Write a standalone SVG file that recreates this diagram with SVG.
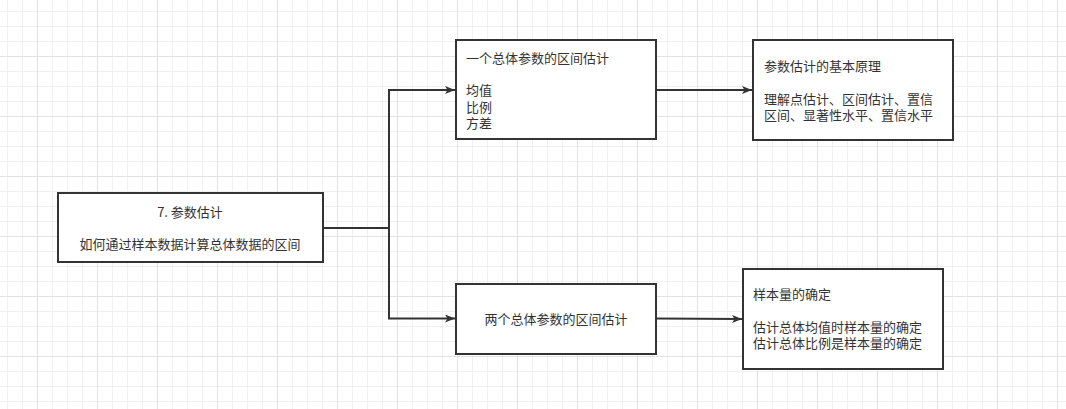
<svg xmlns="http://www.w3.org/2000/svg" width="1066" height="409" viewBox="0 0 1066 409">
<style>
.box{fill:#ffffff;stroke:#333333;stroke-width:2}
.t{font-family:"Noto Sans CJK SC","Liberation Sans",sans-serif;font-size:13px;fill:#333333}
.c{fill:none;stroke:#333333;stroke-width:2}
</style>
<defs>
<pattern id="grid" patternUnits="userSpaceOnUse" x="37" y="56" width="60" height="60">
<path d="M15.5 0V60M30.5 0V60M45.5 0V60M0 15.5H60M0 30.5H60M0 45.5H60" stroke="#f0f0f0" stroke-width="1" fill="none"/>
<path d="M0.5 0V60M0 0.5H60" stroke="#e2e2e2" stroke-width="1" fill="none"/>
</pattern>
<marker id="arr" markerWidth="10" markerHeight="8" refX="10" refY="4" orient="auto" markerUnits="userSpaceOnUse">
<path d="M0 0L10 4L0 8L2.5 4Z" fill="#333333"/>
</marker>
</defs>
<rect width="1066" height="409" fill="#ffffff"/>
<rect width="1066" height="409" fill="url(#grid)"/>
<g id="connectors">
<path class="c" d="M323 228H389V90H455" marker-end="url(#arr)"/>
<path class="c" d="M389 228V318.5H455" marker-end="url(#arr)"/>
<path class="c" d="M656 90H752" marker-end="url(#arr)"/>
<path class="c" d="M656 318.5L742 319" marker-end="url(#arr)"/>
</g>
<g id="n1">
<rect class="box" x="58" y="193" width="265" height="69"/>
<text class="t" x="190" y="217" text-anchor="middle">7. 参数估计</text>
<text class="t" x="190" y="249" text-anchor="middle">如何通过样本数据计算总体数据的区间</text>
</g>
<g id="n2">
<rect class="box" x="456" y="40" width="200" height="99"/>
<text class="t" x="466" y="63">一个总体参数的区间估计</text>
<text class="t" x="466" y="95">均值</text>
<text class="t" x="466" y="111.5">比例</text>
<text class="t" x="466" y="128">方差</text>
</g>
<g id="n3">
<rect class="box" x="753" y="40" width="200" height="100"/>
<text class="t" x="764" y="71">参数估计的基本原理</text>
<text class="t" x="764" y="103.5">理解点估计、区间估计、置信</text>
<text class="t" x="764" y="120">区间、显著性水平、置信水平</text>
</g>
<g id="n4">
<rect class="box" x="456" y="284" width="200" height="70"/>
<text class="t" x="556" y="324" text-anchor="middle">两个总体参数的区间估计</text>
</g>
<g id="n5">
<rect class="box" x="743" y="269" width="200" height="100"/>
<text class="t" x="753" y="299">样本量的确定</text>
<text class="t" x="753" y="331.5">估计总体均值时样本量的确定</text>
<text class="t" x="753" y="347.5">估计总体比例是样本量的确定</text>
</g>
</svg>
